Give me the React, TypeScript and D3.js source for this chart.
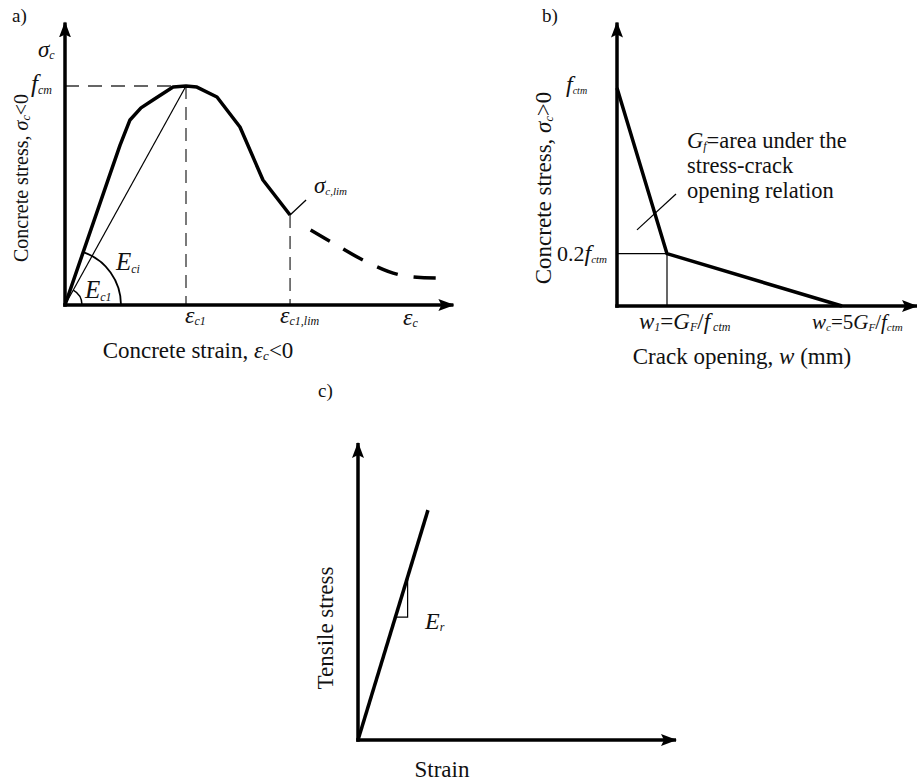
import { useEffect, useRef } from "react";
import * as d3 from "d3";

// a) compressive stress-strain (strain in eps_c1, stress in f_cm)
const compStrain = [0, 0.355, 0.455, 0.537, 0.628, 0.727, 0.893, 1, 1.09, 1.256, 1.446, 1.636, 1.86];
const compStress = [0, 0.57, 0.73, 0.845, 0.9, 0.936, 0.995, 1, 0.995, 0.95, 0.813, 0.571, 0.411];
const softStrain = [2.03, 2.215, 2.496, 2.769, 3.08];
const softStress = [0.342, 0.283, 0.196, 0.137, 0.123];
const peakIdx = 7;
const limIdx = 12;

// b) tension softening (w in w1, stress in f_ctm)
const crackW = [0, 1, 4.5];
const crackStress = [1, 0.24, 0];

// c) linear elastic
const elStrain = [0, 0.22];
const elStress = [0, 0.774];
const slopeMarks = [0.414, 0.549];

const FONT = "'Liberation Serif', 'Times New Roman', serif";

type Part = { t: string; i?: boolean; sub?: boolean; fs?: number };

function label(g: any, x: number, y: number, parts: Part[], size: number, anchor = "start", rot = false) {
  const txt = g.append("text")
    .attr("font-family", FONT)
    .attr("font-size", size)
    .attr("text-anchor", anchor)
    .attr("fill", "#111");
  if (rot) txt.attr("transform", "translate(" + x + "," + y + ") rotate(-90)");
  else txt.attr("x", x).attr("y", y);
  let down = false;
  parts.forEach(p => {
    const ts = txt.append("tspan").text(p.t);
    if (p.i) ts.attr("font-style", "italic");
    if (p.sub) {
      ts.attr("font-size", p.fs || size * 0.55);
      if (!down) ts.attr("dy", size * 0.1);
      down = true;
    } else {
      if (p.fs) ts.attr("font-size", p.fs);
      if (down) ts.attr("dy", -size * 0.1);
      down = false;
    }
  });
  return txt;
}

export default function App() {
  const ref = useRef<SVGSVGElement>(null);

  useEffect(() => {
    const svg = d3.select(ref.current);
    svg.selectAll("*").remove();

    const defs = svg.append("defs");
    defs.append("marker")
      .attr("id", "arr")
      .attr("markerUnits", "userSpaceOnUse")
      .attr("viewBox", "0 0 16 12")
      .attr("refX", 15).attr("refY", 6)
      .attr("markerWidth", 16).attr("markerHeight", 12)
      .attr("orient", "auto")
      .append("path").attr("d", "M0,0 L16,6 L0,12 L3,6 Z").attr("fill", "#000");

    const axis = (g: any, x1: number, y1: number, x2: number, y2: number) =>
      g.append("line").attr("x1", x1).attr("y1", y1).attr("x2", x2).attr("y2", y2)
        .attr("stroke", "#000").attr("stroke-width", 3.5).attr("marker-end", "url(#arr)");

    // ---------------- a)
    const ga = svg.append("g");
    const xA = d3.scaleLinear().domain([0, 1]).range([65, 186]);
    const yA = d3.scaleLinear().domain([0, 1]).range([305, 86]);

    // dashed guides
    ga.append("line").attr("x1", xA(0)).attr("x2", xA(compStrain[peakIdx]))
      .attr("y1", yA(1)).attr("y2", yA(1))
      .attr("stroke", "#333").attr("stroke-width", 1.3).attr("stroke-dasharray", "14,9");
    ga.append("line").attr("x1", xA(compStrain[peakIdx])).attr("x2", xA(compStrain[peakIdx]))
      .attr("y1", yA(1)).attr("y2", yA(0))
      .attr("stroke", "#333").attr("stroke-width", 1.3).attr("stroke-dasharray", "13,8");
    ga.append("line").attr("x1", xA(compStrain[limIdx])).attr("x2", xA(compStrain[limIdx]))
      .attr("y1", yA(compStress[limIdx])).attr("y2", yA(0))
      .attr("stroke", "#333").attr("stroke-width", 1.3).attr("stroke-dasharray", "13,8");

    // secant
    ga.append("line").attr("x1", xA(0)).attr("y1", yA(0))
      .attr("x2", xA(compStrain[peakIdx])).attr("y2", yA(compStress[peakIdx]))
      .attr("stroke", "#000").attr("stroke-width", 1.2);

    const lineA = d3.line<number>().x((d, i) => xA(compStrain[i])).y(d => yA(d));
    ga.append("path").attr("d", lineA(compStress)).attr("fill", "none")
      .attr("stroke", "#000").attr("stroke-width", 3.5).attr("stroke-linejoin", "round");
    const lineS = d3.line<number>().x((d, i) => xA(softStrain[i])).y(d => yA(d)).curve(d3.curveCatmullRom);
    ga.append("path").attr("d", lineS(softStress)).attr("fill", "none")
      .attr("stroke", "#000").attr("stroke-width", 3.5).attr("stroke-dasharray", "22,16");

    // moduli arcs
    const ox = xA(0), oy = yA(0);
    const tanAng = Math.atan2(oy - yA(compStress[1]), xA(compStrain[1]) - ox);
    const secAng = Math.atan2(oy - yA(compStress[peakIdx]), xA(compStrain[peakIdx]) - ox);
    [[56, tanAng, 1.8], [17, secAng, 1.5]].forEach(([r, a, w]) => {
      const p = d3.path();
      p.moveTo(ox + r, oy);
      p.arc(ox, oy, r, 0, -a, true);
      ga.append("path").attr("d", p.toString()).attr("fill", "none").attr("stroke", "#000").attr("stroke-width", w);
    });

    // sigma_c,lim pointer
    ga.append("line").attr("x1", xA(compStrain[limIdx])).attr("y1", yA(compStress[limIdx]))
      .attr("x2", xA(compStrain[limIdx]) + 16).attr("y2", yA(compStress[limIdx]) - 15)
      .attr("stroke", "#000").attr("stroke-width", 1.3);

    axis(ga, xA(0), yA(0) + 1.75, xA(0), yA(1.29));
    axis(ga, xA(0) - 1.75, yA(0), xA(3.21), yA(0));

    label(ga, 12, 22, [{ t: "a)" }], 19);
    label(ga, 38, 57, [{ t: "σ", i: true }, { t: "c", i: true, sub: true, fs: 12 }], 23);
    label(ga, 31, 92, [{ t: "f", i: true, fs: 25 }, { t: "cm", i: true, sub: true, fs: 12 }], 22);
    label(ga, 185, 323, [{ t: "ε", i: true }, { t: "c1", i: true, sub: true, fs: 12 }], 24);
    label(ga, 280, 323, [{ t: "ε", i: true }, { t: "c1,lim", i: true, sub: true, fs: 12 }], 24);
    label(ga, 403, 325, [{ t: "ε", i: true }, { t: "c", i: true, sub: true, fs: 12 }], 24);
    label(ga, 314, 193, [{ t: "σ", i: true }, { t: "c,lim", i: true, sub: true, fs: 11 }], 23);
    label(ga, 116, 270, [{ t: "E", i: true }, { t: "ci", i: true, sub: true, fs: 12 }], 25);
    label(ga, 85, 298, [{ t: "E", i: true }, { t: "c1", i: true, sub: true, fs: 12 }], 25);
    label(ga, 198, 358, [{ t: "Concrete strain, " }, { t: "ε", i: true }, { t: "c", i: true, sub: true, fs: 13 }, { t: "<0" }], 23, "middle");
    label(ga, 28, 178, [{ t: "Concrete stress, " }, { t: "σ", i: true }, { t: "c", i: true, sub: true, fs: 12 }, { t: "<0" }], 20, "middle", true);

    // ---------------- b)
    const gb = svg.append("g");
    const xB = d3.scaleLinear().domain([0, 1]).range([617, 667]);
    const yB = d3.scaleLinear().domain([0, 1]).range([306, 88]);

    gb.append("line").attr("x1", xB(0)).attr("x2", xB(crackW[1]))
      .attr("y1", yB(crackStress[1])).attr("y2", yB(crackStress[1]))
      .attr("stroke", "#000").attr("stroke-width", 1.2);
    gb.append("line").attr("x1", xB(crackW[1])).attr("x2", xB(crackW[1]))
      .attr("y1", yB(crackStress[1])).attr("y2", yB(0))
      .attr("stroke", "#000").attr("stroke-width", 1.2);
    // pointer to area
    gb.append("line").attr("x1", xB(0.4)).attr("y1", yB(0.349))
      .attr("x2", xB(1.18)).attr("y2", yB(0.514))
      .attr("stroke", "#000").attr("stroke-width", 1.2);

    const lineB = d3.line<number>().x((d, i) => xB(crackW[i])).y(d => yB(d));
    gb.append("path").attr("d", lineB(crackStress)).attr("fill", "none")
      .attr("stroke", "#000").attr("stroke-width", 3.5).attr("stroke-linejoin", "round");

    axis(gb, xB(0), yB(0) + 1.75, xB(0), yB(1.3));
    axis(gb, xB(0) - 1.75, yB(0), xB(6), yB(0));

    label(gb, 542, 22, [{ t: "b)" }], 19);
    label(gb, 566, 92, [{ t: "f", i: true, fs: 24 }, { t: "ctm", i: true, sub: true, fs: 10 }], 22);
    label(gb, 557, 261, [{ t: "0.2" }, { t: "f", i: true, fs: 24 }, { t: "ctm", i: true, sub: true, fs: 11 }], 22);
    label(gb, 639, 329, [{ t: "w", i: true }, { t: "1", i: true, sub: true, fs: 12 }, { t: "=" }, { t: "G", i: true }, { t: "F", i: true, sub: true, fs: 12 }, { t: "/" }, { t: "f", i: true }, { t: " ctm", i: true, sub: true, fs: 12 }], 23);
    label(gb, 812, 329, [{ t: "w", i: true }, { t: "c", i: true, sub: true, fs: 11 }, { t: "=5" }, { t: "G", i: true }, { t: "F", i: true, sub: true, fs: 11 }, { t: "/" }, { t: "f", i: true }, { t: "ctm", i: true, sub: true, fs: 11 }], 21);
    label(gb, 742, 364, [{ t: "Crack opening, " }, { t: "w", i: true }, { t: " (mm)" }], 23, "middle");
    label(gb, 551, 188, [{ t: "Concrete stress, " }, { t: "σ", i: true }, { t: "c", i: true, sub: true, fs: 12 }, { t: ">0" }], 23, "middle", true);
    label(gb, 687, 148, [{ t: "G", i: true }, { t: "f", i: true, sub: true, fs: 12 }, { t: "=area under the" }], 22.5);
    label(gb, 687, 173, [{ t: "stress-crack" }], 22.5);
    label(gb, 687, 198, [{ t: "opening relation" }], 22.5);

    // ---------------- c)
    const gc = svg.append("g");
    const xC = d3.scaleLinear().domain([0, 1]).range([358, 676]);
    const yC = d3.scaleLinear().domain([0, 1]).range([740, 443]);
    const slope = elStress[1] / elStrain[1];

    const lineC = d3.line<number>().x((d, i) => xC(elStrain[i])).y(d => yC(d));
    gc.append("path").attr("d", lineC(elStress)).attr("fill", "none")
      .attr("stroke", "#000").attr("stroke-width", 3.5);
    const [lo, hi] = slopeMarks;
    gc.append("path")
      .attr("d", d3.line()([[xC(lo / slope), yC(lo)], [xC(hi / slope), yC(lo)], [xC(hi / slope), yC(hi)]]))
      .attr("fill", "none").attr("stroke", "#000").attr("stroke-width", 1.2);

    axis(gc, xC(0), yC(0) + 1.75, xC(0), yC(1));
    axis(gc, xC(0) - 1.75, yC(0), xC(1), yC(0));

    label(gc, 318, 397, [{ t: "c)" }], 19);
    label(gc, 425, 629, [{ t: "E", i: true }, { t: "r", i: true, sub: true, fs: 12 }], 24);
    label(gc, 442, 777, [{ t: "Strain" }], 23, "middle");
    label(gc, 333, 628, [{ t: "Tensile stress" }], 23, "middle", true);
  }, []);

  return (
    <svg ref={ref} width={917} height={784}
      style={{ position: "absolute", left: 0, top: 0, background: "#fff" }} />
  );
}
